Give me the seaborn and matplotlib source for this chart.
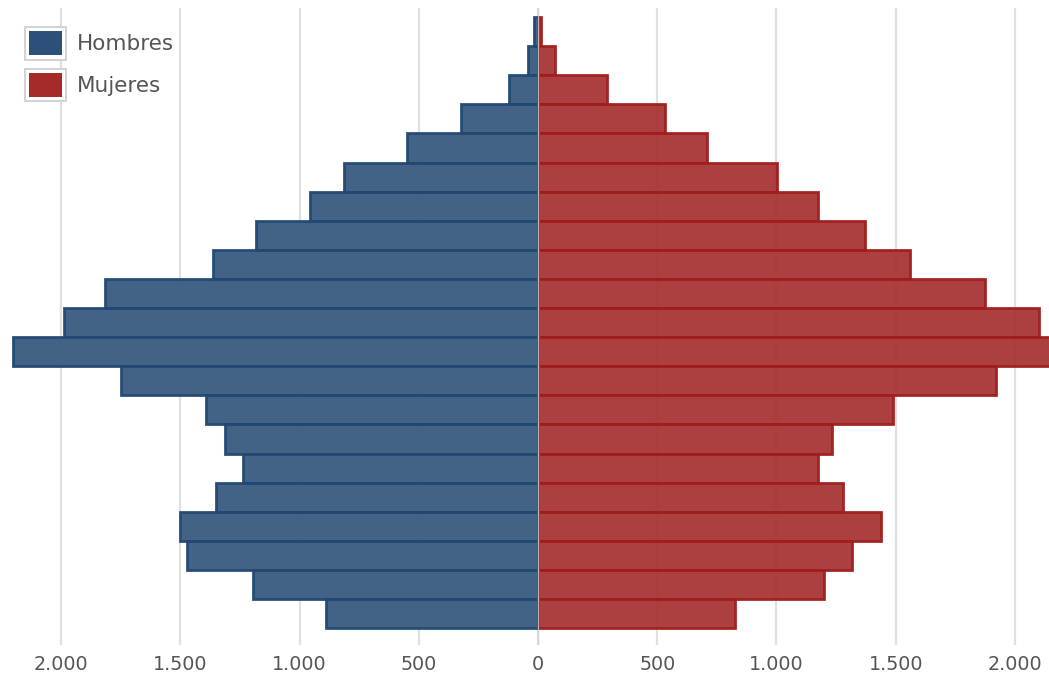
"""
Pirámide de población: Hombres vs Mujeres por grupo de edad
"""

import numpy as np
import pandas as pd
import matplotlib
matplotlib.use('Agg')
import matplotlib.pyplot as plt
from matplotlib.patches import Patch, Rectangle
from matplotlib.legend_handler import HandlerBase
from matplotlib.ticker import FuncFormatter, MultipleLocator
import seaborn as sns

# Grupos de edad, de abajo (0-4) hacia arriba (100+)
EDADES = ['0-4', '5-9', '10-14', '15-19', '20-24', '25-29', '30-34',
          '35-39', '40-44', '45-49', '50-54', '55-59', '60-64', '65-69',
          '70-74', '75-79', '80-84', '85-89', '90-94', '95-99', '100+']
HOMBRES = [889, 1195, 1472, 1501, 1350, 1237, 1312, 1392, 1748, 2201, 1987,
           1815, 1363, 1182, 956, 813, 549, 323, 120, 43, 15]
MUJERES = [826, 1199, 1317, 1438, 1279, 1174, 1233, 1488, 1920, 2160, 2101,
           1874, 1560, 1371, 1174, 1002, 709, 533, 288, 73, 14]

C_HOM_FILL, C_HOM_EDGE = '#385a80', '#214773'
C_MUJ_FILL, C_MUJ_EDGE = '#a83434', '#a01d1d'
GRID = '#e0e0e0'
TEXT = '#555555'

sns.set_theme(style='white')
plt.rcParams['font.family'] = ['DejaVu Sans']


class BoxHandler(HandlerBase):
    """Legend key: grey framed box with a coloured square inside."""
    def create_artists(self, legend, orig_handle, xdescent, ydescent,
                       width, height, fontsize, trans):
        x0, y0 = -xdescent, -ydescent
        outer = Rectangle((x0, y0), width, height, facecolor='white',
                          edgecolor='#cfcfcf', lw=1.3, transform=trans)
        g = 3.0
        inner = Rectangle((x0 + g, y0 + g), width - 2 * g, height - 2 * g,
                          facecolor=orig_handle.get_facecolor(),
                          edgecolor='none', transform=trans)
        return [outer, inner]


df = pd.DataFrame({'edad': EDADES,
                   'hombres': -np.array(HOMBRES),
                   'mujeres': np.array(MUJERES)})
orden = EDADES[::-1]  # top-to-bottom order for seaborn

fig = plt.figure(figsize=(10.49, 6.78), dpi=100)
ax = fig.add_axes([0, 1 - 645 / 678, 1, (645 - 8) / 678])

sns.barplot(data=df, x='hombres', y='edad', order=orden, orient='h',
            color=C_HOM_FILL, saturation=1, width=1, alpha=0.95,
            edgecolor=C_HOM_EDGE, linewidth=2.0, ax=ax, zorder=2)
sns.barplot(data=df, x='mujeres', y='edad', order=orden, orient='h',
            color=C_MUJ_FILL, saturation=1, width=1, alpha=0.95,
            edgecolor=C_MUJ_EDGE, linewidth=2.0, ax=ax, zorder=2)

ax.axvline(0, color='#d0d0d0', lw=1, alpha=0.8, zorder=3)

ax.set_xlim(-2256, 2143)
ax.set_ylim(len(EDADES) - 0.5 + 0.58, -0.5 - 0.31)
ax.xaxis.set_major_locator(MultipleLocator(500))
ax.xaxis.set_major_formatter(
    FuncFormatter(lambda v, p: f'{abs(v):,.0f}'.replace(',', '.')))
ax.grid(True, axis='x', color=GRID, linewidth=1.6, zorder=0)
ax.set_axisbelow(True)
ax.set_xlabel('')
ax.set_ylabel('')
ax.set_yticks([])
ax.tick_params(axis='x', length=0, pad=7, labelsize=13.8, labelcolor=TEXT)
for s in ax.spines.values():
    s.set_visible(False)

handles = [Patch(facecolor='#2c507a', label='Hombres'),
           Patch(facecolor='#a52a2a', label='Mujeres')]
leg = ax.legend(handles=handles, loc='upper left',
                bbox_to_anchor=(25 / 1049, (645 - 27) / 637),
                handler_map={Patch: BoxHandler()},
                frameon=False, fontsize=15.5, handlelength=1.9,
                handleheight=1.95, handletextpad=0.5, labelspacing=0.42,
                borderpad=0, borderaxespad=0)
for t in leg.get_texts():
    t.set_color(TEXT)

fig.savefig('out.png', dpi=100)
